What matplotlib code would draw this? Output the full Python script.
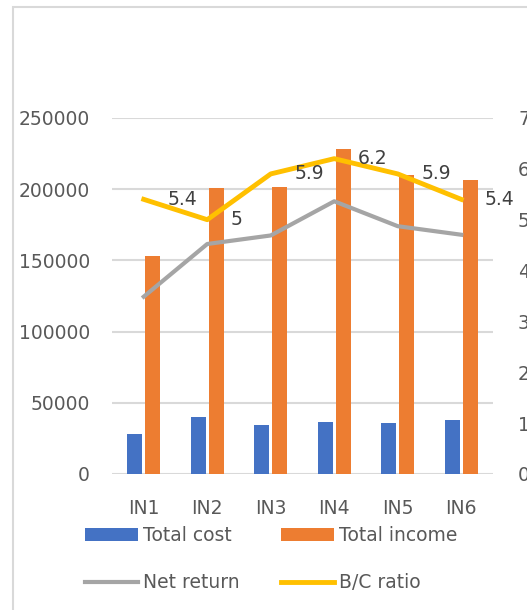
"""
Затраты, доход и рентабельность по вариантам IN1-IN6.
"""

import numpy as np
import matplotlib.pyplot as plt
from matplotlib.patches import Rectangle

# Данные
categories = ['IN1', 'IN2', 'IN3', 'IN4', 'IN5', 'IN6']
total_cost = [28000, 40000, 34500, 36500, 36000, 38000]
total_income = [153000, 201000, 201500, 228000, 210000, 206500]
net_return = [124500, 161500, 167500, 191500, 174000, 168000]
bc_ratio = [5.4, 5.0, 5.9, 6.2, 5.9, 5.4]
bc_labels = ['5.4', '5', '5.9', '6.2', '5.9', '5.4']

BLUE = '#4472C4'
ORANGE = '#ED7D31'
GRAY = '#A5A5A5'
YELLOW = '#FFC000'
GRID = '#D9D9D9'
TEXT = '#595959'
FS = 13.5

plt.rcParams['font.family'] = ['DejaVu Sans']

fig = plt.figure(figsize=(5.27, 6.10), dpi=100)
ax = fig.add_axes([0.2125, 0.2230, 0.7230, 0.5836])
ax2 = ax.twinx()

x = np.arange(len(categories))
w = 0.236
b1 = ax.bar(x - 0.14, total_cost, w, color=BLUE, label='Total cost', zorder=2)
b2 = ax.bar(x + 0.14, total_income, w, color=ORANGE, label='Total income', zorder=2)
l1, = ax.plot(x, net_return, color=GRAY, lw=3.0, label='Net return', zorder=3,
              solid_joinstyle='round')
l2, = ax2.plot(x, bc_ratio, color=YELLOW, lw=3.5, label='B/C ratio', zorder=3,
               solid_joinstyle='round')

for xi, yi, txt in zip(x, bc_ratio, bc_labels):
    ax2.annotate(txt, (xi, yi), xytext=(17, 0), textcoords='offset points',
                 ha='left', va='center', fontsize=FS, color='#404040')

ax.set_xlim(-0.5, len(categories) - 0.5)
ax.set_ylim(0, 250000)
ax.set_yticks(np.arange(0, 250001, 50000))
ax2.set_ylim(0, 7)
ax2.set_yticks(range(0, 8))

ax.set_xticks(x)
ax.set_xticklabels(categories)
ax.yaxis.grid(True, color=GRID, lw=1.5, zorder=0)
ax.set_axisbelow(True)

for a in (ax, ax2):
    for s in a.spines.values():
        s.set_visible(False)
ax.tick_params(axis='y', length=0, pad=16, labelsize=FS, labelcolor=TEXT)
ax.tick_params(axis='x', length=0, pad=18, labelsize=FS, labelcolor=TEXT)
ax2.tick_params(axis='y', length=0, pad=18, labelsize=FS, labelcolor=TEXT)

# рамка области диаграммы
fig.add_artist(Rectangle((12.5 / 527, -0.5), 1.5, 1.5 - 6.5 / 610,
                         transform=fig.transFigure, fill=False,
                         ec=GRID, lw=1.5))

# порядок: построчно (Total cost, Total income / Net return, B/C ratio)
leg = fig.legend(handles=[b1, l1, b2, l2], ncol=2, loc='upper left',
                 bbox_to_anchor=(85 / 527, 1 - 526 / 610), frameon=False,
                 fontsize=FS, handlelength=2.8, handleheight=0.7,
                 handletextpad=0.3, columnspacing=2.2, labelspacing=1.5,
                 borderpad=0, borderaxespad=0)
for t in leg.get_texts():
    t.set_color(TEXT)

plt.savefig('out.png', dpi=100)
